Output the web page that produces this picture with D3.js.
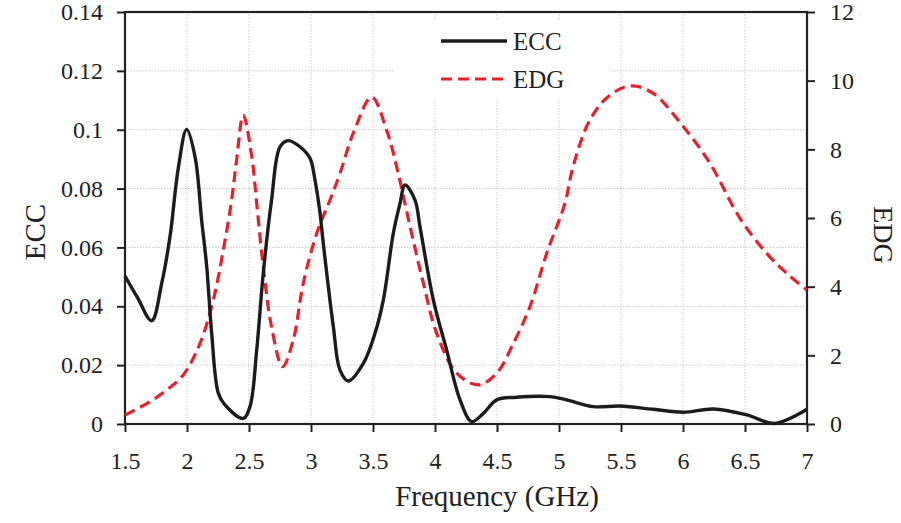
<!DOCTYPE html>
<html>
<head>
<meta charset="utf-8">
<script src="https://cdn.jsdelivr.net/npm/d3@7"></script>
<style>
  body { margin: 0; background: #fff; }
  svg text { font-family: "Liberation Serif", "Times New Roman", Times, serif !important; fill: #222; }
</style>
</head>
<body>
<svg id="chart" width="901" height="523" font-family="Liberation Serif, serif"></svg>
<script>
// ECC (left axis)
var eccFreq = [1.5, 1.6, 1.715, 1.796, 1.863, 1.93, 1.997, 2.065, 2.118, 2.159, 2.199, 2.253, 2.306, 2.454,
  2.508, 2.562, 2.615, 2.682, 2.75, 2.817, 2.911, 2.992, 3.032, 3.073, 3.099, 3.18, 3.234, 3.301, 3.422,
  3.516, 3.583, 3.664, 3.718, 3.758, 3.839, 3.879, 3.987, 4.094, 4.202, 4.296, 4.39, 4.498, 4.659, 4.927,
  5.062, 5.277, 5.492, 5.76, 6.003, 6.245, 6.514, 6.742, 7.0];
var eccVal = [0.0503, 0.043, 0.0351, 0.0478, 0.0637, 0.087, 0.1001, 0.0908, 0.0693, 0.0535, 0.0308, 0.0104, 0.0065, 0.0019,
  0.0059, 0.0251, 0.0512, 0.0761, 0.0942, 0.0963, 0.0942, 0.0903, 0.0829, 0.0716, 0.0614, 0.0331, 0.0183, 0.0146, 0.0206,
  0.0308, 0.0421, 0.0648, 0.075, 0.0812, 0.0761, 0.067, 0.0421, 0.0251, 0.0082, 0.0008, 0.0036, 0.0082, 0.0091, 0.0093,
  0.0082, 0.0059, 0.0061, 0.005, 0.004, 0.0051, 0.0031, 0.0002, 0.005];

// EDG (right axis)
var edgFreq = [1.5, 1.702, 1.836, 1.97, 2.105, 2.212, 2.293, 2.36, 2.4, 2.454, 2.522, 2.562, 2.615, 2.682, 2.771,
  2.857, 2.938, 3.046, 3.153, 3.234, 3.341, 3.49, 3.61, 3.691, 3.799, 3.906, 4.014, 4.175, 4.349, 4.498, 4.632,
  4.766, 4.901, 5.048, 5.113, 5.25, 5.411, 5.586, 5.76, 6.003, 6.218, 6.46, 6.675, 6.836, 7.0];
var edgVal = [0.26, 0.65, 0.99, 1.43, 2.35, 3.61, 5.07, 6.52, 7.69, 9.0, 7.79, 6.43, 4.58, 2.83, 1.67,
  2.45, 4.1, 5.55, 6.52, 7.3, 8.47, 9.52, 8.56, 7.49, 5.75, 4.1, 2.64, 1.48, 1.14, 1.48, 2.35,
  3.42, 4.97, 6.43, 7.49, 8.86, 9.58, 9.85, 9.63, 8.66, 7.59, 5.99, 4.97, 4.39, 3.9];

var xTicks = [1.5, 2, 2.5, 3, 3.5, 4, 4.5, 5, 5.5, 6, 6.5, 7];
var eccTicks = [0, 0.02, 0.04, 0.06, 0.08, 0.1, 0.12, 0.14];
var edgTicks = [0, 2, 4, 6, 8, 10, 12];
var seriesNames = ["ECC", "EDG"];

var svg = d3.select("#chart");
var m = {left: 125, right: 807, top: 12, bottom: 424};
var serif = "Liberation Serif, Times New Roman, serif";

var x = d3.scaleLinear().domain([1.5, 7]).range([m.left, m.right]);
var yL = d3.scaleLinear().domain([0, 0.14]).range([m.bottom, m.top]);
var yR = d3.scaleLinear().domain([0, 12]).range([m.bottom, m.top]);

// grid
var grid = svg.append("g").attr("stroke", "#c8c8c8").attr("stroke-width", 1).attr("stroke-dasharray", "1.5,1.5");
grid.selectAll(".gx").data(xTicks.slice(1, -1)).enter().append("line")
  .attr("x1", function(d){ return x(d); }).attr("x2", function(d){ return x(d); })
  .attr("y1", m.top).attr("y2", m.bottom);
grid.selectAll(".gy").data(eccTicks.slice(1, -1)).enter().append("line")
  .attr("x1", m.left).attr("x2", m.right)
  .attr("y1", function(d){ return yL(d); }).attr("y2", function(d){ return yL(d); });

// legend background hides grid
svg.append("rect").attr("x", 393).attr("y", 20).attr("width", 216).attr("height", 77).attr("fill", "#fff");

// axes
function styleAxis(g){
  g.attr("font-family", serif);
  g.select(".domain").remove();
  g.selectAll(".tick line").attr("stroke", "#222").attr("stroke-width", 2);
  g.selectAll(".tick text").attr("font-size", 24).attr("fill", "#222");
}
svg.append("g").attr("transform", "translate(0," + m.bottom + ")")
  .call(d3.axisBottom(x).tickValues(xTicks).tickSize(8).tickPadding(20).tickFormat(d3.format("")))
  .call(styleAxis);
svg.append("g").attr("transform", "translate(" + m.left + ",0)")
  .call(d3.axisLeft(yL).tickValues(eccTicks).tickSize(8).tickPadding(14).tickFormat(d3.format("")))
  .call(styleAxis);
svg.append("g").attr("transform", "translate(" + m.right + ",0)")
  .call(d3.axisRight(yR).tickValues(edgTicks).tickSize(8).tickPadding(15))
  .call(styleAxis);

// frame
svg.append("rect").attr("x", m.left).attr("y", m.top)
  .attr("width", m.right - m.left).attr("height", m.bottom - m.top)
  .attr("fill", "none").attr("stroke", "#222").attr("stroke-width", 2.2);

// lines
var eccLine = d3.line().curve(d3.curveCatmullRom.alpha(0.5))
  .x(function(d, i){ return x(eccFreq[i]); }).y(function(d){ return yL(d); });
var edgLine = d3.line().curve(d3.curveCatmullRom.alpha(0.5))
  .x(function(d, i){ return x(edgFreq[i]); }).y(function(d){ return yR(d); });

svg.append("path").datum(edgVal).attr("d", edgLine).attr("fill", "none")
  .attr("stroke", "#e8202a").attr("stroke-width", 3.2).attr("stroke-dasharray", "11,6");
svg.append("path").datum(eccVal).attr("d", eccLine).attr("fill", "none")
  .attr("stroke", "#1c1c1c").attr("stroke-width", 3.4);

// legend
var leg = svg.append("g").attr("font-family", serif);
leg.append("line").attr("x1", 441).attr("x2", 507).attr("y1", 41).attr("y2", 41)
  .attr("stroke", "#1c1c1c").attr("stroke-width", 3.4);
leg.append("line").attr("x1", 441).attr("x2", 507).attr("y1", 79).attr("y2", 79)
  .attr("stroke", "#e8202a").attr("stroke-width", 3.2).attr("stroke-dasharray", "11,6");
leg.selectAll("text").data(seriesNames).enter().append("text")
  .attr("x", 513).attr("y", function(d, i){ return 41 + i * 38; })
  .attr("dy", "0.35em").attr("font-size", 25).text(function(d){ return d; });

// axis titles
svg.append("text").attr("x", 497).attr("y", 506).attr("text-anchor", "middle")
  .attr("font-size", 29).text("Frequency (GHz)");
svg.append("text").attr("transform", "translate(45,232) rotate(-90)").attr("text-anchor", "middle")
  .attr("font-size", 29).text("ECC");
svg.append("text").attr("transform", "translate(874,235) rotate(90)").attr("text-anchor", "middle")
  .attr("font-size", 28).text("EDG");
</script>
</body>
</html>
